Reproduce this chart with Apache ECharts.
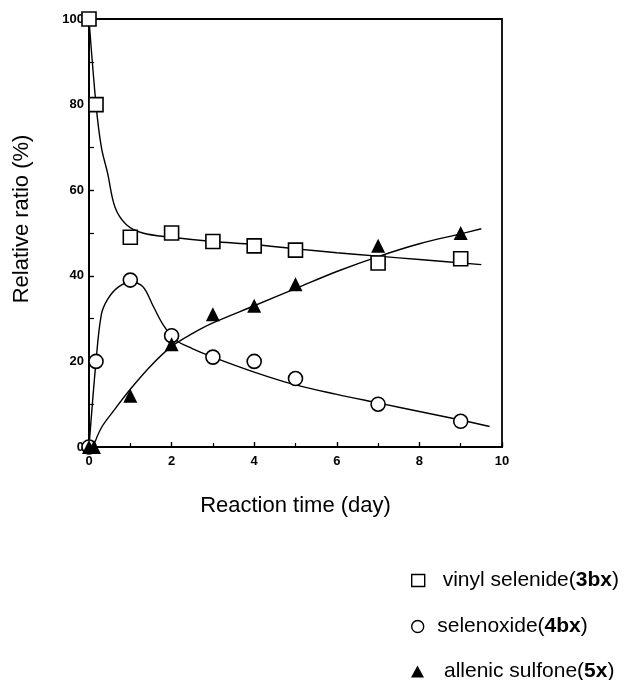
<!DOCTYPE html>
<html lang="en" style="height: 100%">
<head>
  <meta charset="utf-8">
</head>
<body style="height: 100%; margin: 0; background-color:#ffffff;">
  <div id="container" style="width: 626px; height: 680px"></div>

<script src="https://fastly.jsdelivr.net/npm/echarts@6/dist/echarts.min.js"></script>

<script>
  var dom = document.getElementById('container');
  var myChart = echarts.init(dom);

  // measured points
  var vinylX = [0, 0.17, 1, 2, 3, 4, 5, 7, 9];
  var vinylY = [100, 80, 49, 50, 48, 47, 46, 43, 44];
  var oxideX = [0, 0.17, 1, 2, 3, 4, 5, 7, 9];
  var oxideY = [0, 20, 39, 26, 21, 20, 16, 10, 6];
  var sulfoneX = [0, 0.12, 1, 2, 3, 4, 5, 7, 9];
  var sulfoneY = [0, 0, 12, 24, 31, 33, 38, 47, 50];

  // fitted curves, as drawn in the figure
  var vinylFitX = [0, 0.17, 0.3, 0.45, 0.63, 0.9, 1.3, 2, 3, 4, 5, 6, 7, 8, 9.5];
  var vinylFitY = [100, 80, 70, 64, 56, 52, 50, 49, 48, 47.3, 46.3, 45.4, 44.6, 43.8, 42.6];
  var oxideFitX = [0, 0.17, 0.3, 0.45, 0.7, 1, 1.3, 1.55, 1.8, 2.1, 2.5, 3, 4, 5, 6, 7, 8, 9, 9.7];
  var oxideFitY = [0, 20, 31, 34.5, 37.3, 38.5, 37.5, 33, 28.5, 25, 23, 21, 17.5, 14.5, 12.3, 10.3, 8.3, 6.3, 4.8];
  var sulfoneFitX = [0.1, 0.3, 0.6, 1, 1.5, 2, 2.5, 3, 4, 5, 6, 7, 8, 9, 9.5];
  var sulfoneFitY = [0, 4.5, 8.5, 13.5, 19, 23.5, 26.5, 29, 33, 37, 41, 44.5, 47.5, 49.8, 51];

  var names = ['vinyl selenide(3bx)', 'selenoxide(4bx)', 'allenic sulfone(5x)'];

  function pairs(xs, ys) {
    return xs.map(function (x, i) { return [x, ys[i]]; });
  }

  var font = '"Liberation Sans", Arial, Helvetica, sans-serif';

  function fitLine(xs, ys) {
    return {
      type: 'line',
      data: pairs(xs, ys),
      smooth: 0.35,
      showSymbol: false,
      silent: true,
      lineStyle: { color: '#000', width: 1.4 },
      z: 2
    };
  }

  // one legend block per entry, so each line can be placed by itself
  function legendEntry(name, icon, style, top, gap) {
    return {
      left: 406,
      top: top,
      itemWidth: 13,
      itemHeight: 12,
      data: [{ name: name, icon: icon, itemStyle: style }],
      formatter: function (n) {
        var m = n.match(/^(.*)\((.*)\)$/);
        return '{a|' + m[1] + '(}{b|' + m[2] + '}{n|)}';
      },
      textStyle: {
        rich: {
          a: { fontFamily: font, fontSize: 21, color: '#000', padding: [0, 0, 0, gap] },
          n: { fontFamily: font, fontSize: 21, color: '#000' },
          b: { fontFamily: font, fontSize: 21, fontWeight: 'bold', color: '#000' }
        }
      }
    };
  }

  var hollow = { color: '#fff', borderColor: '#000', borderWidth: 1.4 };

  var option = {
    animation: false,
    grid: {
      left: 89, right: 124, top: 19, bottom: 233,
      show: true, borderColor: '#000', borderWidth: 1.8
    },
    legend: [
      legendEntry(names[0], 'rect', hollow, 565, 13),
      legendEntry(names[1], 'circle', hollow, 611, 8),
      legendEntry(names[2], 'triangle', { color: '#000' }, 656, 15)
    ],
    xAxis: {
      type: 'value',
      min: 0, max: 10, interval: 2,
      name: 'Reaction time (day)',
      nameLocation: 'middle',
      nameGap: 48,
      nameTextStyle: { fontFamily: font, fontSize: 22, color: '#000' },
      axisLine: { lineStyle: { color: '#000', width: 1.8 } },
      axisTick: { inside: true, length: 5, lineStyle: { color: '#000', width: 1.4 } },
      minorTick: { show: true, splitNumber: 2, length: 4, lineStyle: { color: '#000', width: 1.2 } },
      axisLabel: { fontFamily: font, fontSize: 13, fontWeight: 'bold', color: '#000', margin: 8 },
      splitLine: { show: false }
    },
    yAxis: {
      type: 'value',
      min: 0, max: 100, interval: 20,
      name: 'Relative ratio (%)',
      nameLocation: 'middle',
      nameGap: 56,
      nameTextStyle: { fontFamily: font, fontSize: 22, color: '#000', padding: [0, 0, 0, 28] },
      axisLine: { show: true, lineStyle: { color: '#000', width: 1.8 } },
      axisTick: { show: true, inside: true, length: 5, lineStyle: { color: '#000', width: 1.4 } },
      minorTick: { show: true, splitNumber: 2, length: 5, lineStyle: { color: '#000', width: 1.2 } },
      axisLabel: { fontFamily: font, fontSize: 13, fontWeight: 'bold', color: '#000', margin: 5 },
      splitLine: { show: false }
    },
    series: [
      fitLine(vinylFitX, vinylFitY),
      fitLine(oxideFitX, oxideFitY),
      fitLine(sulfoneFitX, sulfoneFitY),
      {
        name: names[0],
        type: 'scatter',
        symbol: 'rect',
        symbolSize: 14,
        data: pairs(vinylX, vinylY),
        itemStyle: { color: '#fff', borderColor: '#000', borderWidth: 1.6, opacity: 1 },
        z: 3
      },
      {
        name: names[1],
        type: 'scatter',
        symbol: 'circle',
        symbolSize: 14,
        data: pairs(oxideX, oxideY),
        itemStyle: { color: '#fff', borderColor: '#000', borderWidth: 1.6, opacity: 1 },
        z: 3
      },
      {
        name: names[2],
        type: 'scatter',
        symbol: 'triangle',
        symbolSize: 14,
        data: pairs(sulfoneX, sulfoneY),
        itemStyle: { color: '#000', opacity: 1 },
        z: 4
      }
    ]
  };

  myChart.setOption(option);

  window.addEventListener('resize', myChart.resize);
</script>

</body>
</html>
